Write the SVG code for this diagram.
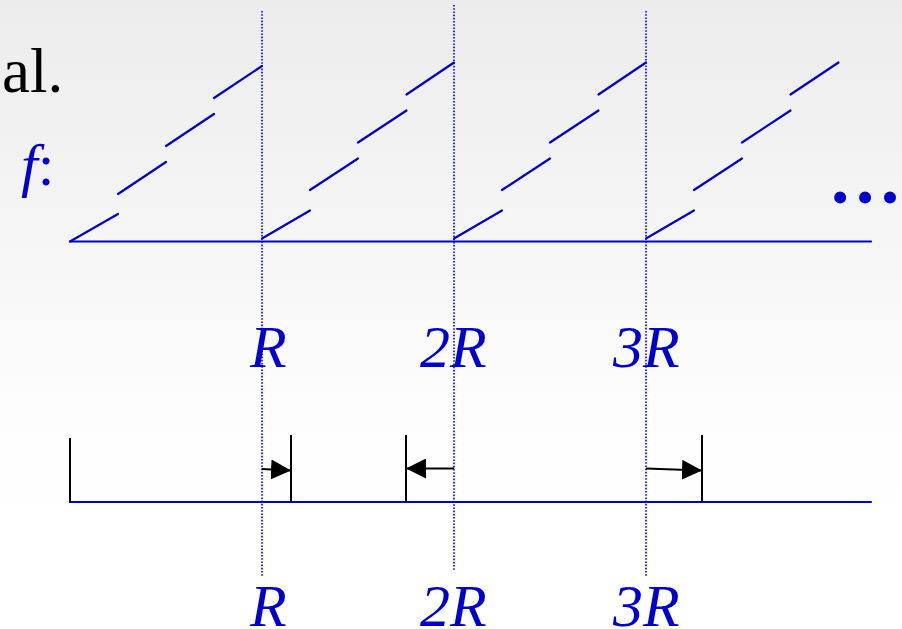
<svg xmlns="http://www.w3.org/2000/svg" width="902" height="629" viewBox="0 0 902 629">
<defs>
<linearGradient id="bg" x1="0" y1="0" x2="0" y2="1">
<stop offset="0" stop-color="#ececec"/>
<stop offset="0.7" stop-color="#fefefe"/>
<stop offset="1" stop-color="#ffffff"/>
</linearGradient>
<marker id="ah" viewBox="0 0 20 20" refX="20" refY="10" markerWidth="20" markerHeight="20" markerUnits="userSpaceOnUse" orient="auto">
<path d="M0,0 L20,10 L0,20 Z" fill="#000"/>
</marker>
</defs>
<style>
.blue{stroke:#0000cc;stroke-width:2.2;fill:none;stroke-linecap:round}
.dot{stroke:#0000ee;stroke-width:1.6;stroke-dasharray:1.6 1.6;fill:none}
.blk{stroke:#000;stroke-width:2;fill:none}
.lbl{font-family:"Liberation Serif","Times New Roman",serif;font-style:italic;font-size:60px;fill:#0000cc}
.arr{stroke:#000;stroke-width:2;fill:none;marker-end:url(#ah)}
</style>
<rect width="902" height="629" fill="url(#bg)"/>
<g id="title"><text x="2" y="92" font-family="'Liberation Serif','Times New Roman',serif" font-size="63" fill="#000">al.</text></g>
<g id="f-label"><text x="21" y="185" class="lbl" font-size="63">f<tspan font-style="normal">:</tspan></text></g>
<g id="ellipsis"><text x="828" y="203" font-family="'Liberation Serif','Times New Roman',serif" font-weight="bold" font-size="74" fill="#0000cc">…</text></g>
<g id="guides">
<line class="dot" x1="262" y1="11" x2="262" y2="577"/>
<line class="dot" x1="454" y1="5" x2="454" y2="571"/>
<line class="dot" x1="646" y1="11" x2="646" y2="577"/>
</g>
<g id="axis-top"><line class="blue" x1="70" y1="241.5" x2="871" y2="241.5"/></g>
<g id="ramp1" class="blue">
<line x1="70" y1="241.5" x2="118" y2="214"/>
<line x1="118" y1="194" x2="166" y2="162"/>
<line x1="166" y1="146" x2="214" y2="114"/>
<line x1="214" y1="98" x2="262" y2="66"/>
</g>
<g id="ramp2" class="blue">
<line x1="262" y1="238.5" x2="310" y2="210.5"/>
<line x1="310" y1="190" x2="358" y2="158.5"/>
<line x1="358" y1="142.5" x2="406.5" y2="110.5"/>
<line x1="406.5" y1="94.5" x2="454" y2="62.5"/>
</g>
<g id="ramp3" class="blue">
<line x1="454" y1="238.5" x2="502" y2="210.5"/>
<line x1="502" y1="190" x2="550" y2="158.5"/>
<line x1="550" y1="142.5" x2="598.5" y2="110.5"/>
<line x1="598.5" y1="94.5" x2="646" y2="62.5"/>
</g>
<g id="ramp4" class="blue">
<line x1="646" y1="238.5" x2="694" y2="210.5"/>
<line x1="694" y1="190" x2="742" y2="158.5"/>
<line x1="742" y1="142.5" x2="790.5" y2="110.5"/>
<line x1="790.5" y1="94.5" x2="838.5" y2="62.5"/>
</g>
<g id="labels-top">
<text class="lbl" x="250" y="367">R</text>
<text class="lbl" x="420" y="367">2R</text>
<text class="lbl" x="613" y="367">3R</text>
</g>
<g id="axis-bottom"><line class="blue" x1="70" y1="502" x2="871" y2="502"/></g>
<g id="ticks" class="blk">
<line x1="70" y1="438" x2="70" y2="503"/>
<line x1="291" y1="435" x2="291" y2="502"/>
<line x1="406" y1="435" x2="406" y2="502"/>
<line x1="702" y1="435" x2="702" y2="502"/>
</g>
<g id="connectors">
<line class="arr" x1="262" y1="469" x2="291" y2="470.5"/>
<line class="arr" x1="454" y1="468.5" x2="406" y2="468.5"/>
<line class="arr" x1="646" y1="468.5" x2="702" y2="470.5"/>
</g>
<g id="labels-bottom">
<text class="lbl" x="250" y="626">R</text>
<text class="lbl" x="420" y="626">2R</text>
<text class="lbl" x="613" y="626">3R</text>
</g>
</svg>
